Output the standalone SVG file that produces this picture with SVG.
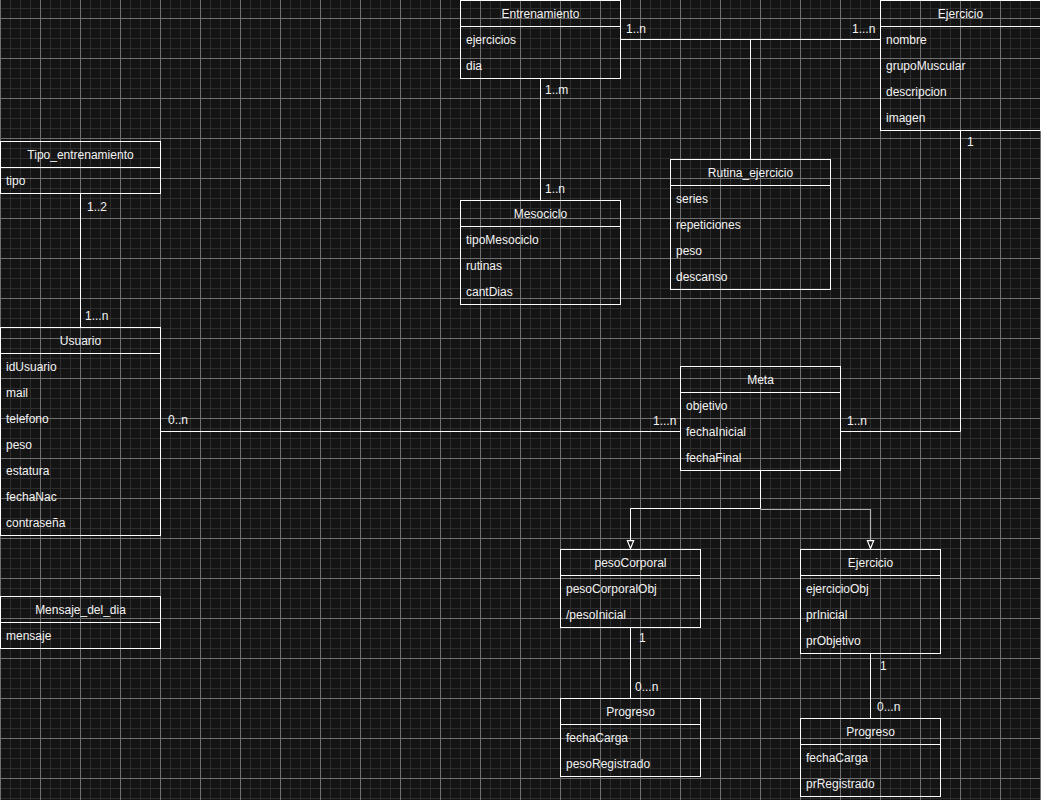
<svg xmlns="http://www.w3.org/2000/svg" width="1041" height="800" viewBox="0 0 1041 800">
<style>
.box{fill:none;stroke:#ffffff;stroke-width:1}
.sep{stroke:#ffffff;stroke-width:1}
.t{font-family:"Liberation Sans",Arial,sans-serif;font-size:12px;fill:#f2f2f2}
.h{text-anchor:middle}
.c{fill:none;stroke:#ffffff;stroke-width:1}
.c2{fill:none;stroke:#b0b0b0;stroke-width:1.2}
</style>
<defs>
<pattern id="grid" x="0" y="18" width="40" height="40" patternUnits="userSpaceOnUse">
<rect x="10" y="0" width="1" height="40" fill="#2e2e2e"/>
<rect x="20" y="0" width="1" height="40" fill="#2e2e2e"/>
<rect x="30" y="0" width="1" height="40" fill="#2e2e2e"/>
<rect x="0" y="10" width="40" height="1" fill="#2e2e2e"/>
<rect x="0" y="20" width="40" height="1" fill="#2e2e2e"/>
<rect x="0" y="30" width="40" height="1" fill="#2e2e2e"/>
<rect x="0" y="0" width="1" height="40" fill="#707070"/>
<rect x="0" y="0" width="40" height="1" fill="#707070"/>
</pattern>
<marker id="tri" markerUnits="userSpaceOnUse" markerWidth="12" markerHeight="10" viewBox="-1 -4 10 8" refX="6.5" refY="0" orient="auto">
<path d="M0,-2.6 L6.5,0 L0,2.6 Z" fill="#141414" stroke="#ffffff" stroke-width="1"/>
</marker>
</defs>
<rect width="1041" height="800" fill="#141414"/>
<rect width="1041" height="800" fill="url(#grid)"/>

<g id="connectors">
<path class="c" d="M620.5,39.5 L880.5,39.5"/>
<path class="c" d="M750.5,39.5 L750.5,159.5"/>
<path class="c" d="M540.5,78.5 L540.5,200.5"/>
<path class="c" d="M80.5,193.5 L80.5,327.5"/>
<path class="c" d="M160.5,431.5 L680.5,431.5"/>
<path class="c" d="M840.5,431.5 L960.5,431.5 L960.5,130.5"/>
<path class="c" d="M760.5,470.5 L760.5,508.5 L630.5,508.5 L630.5,548.5" marker-end="url(#tri)"/>
<path class="c2" d="M760.5,509.5 L870.5,509.5 L870.5,548.5" marker-end="url(#tri)"/>
<path class="c" d="M630.5,627.5 L630.5,698.5"/>
<path class="c" d="M870.5,653.5 L870.5,718.5"/>
<text class="t" x="626" y="33">1..n</text>
<text class="t" x="852" y="33">1...n</text>
<text class="t" x="545" y="94">1..m</text>
<text class="t" x="545" y="193">1..n</text>
<text class="t" x="87" y="211">1..2</text>
<text class="t" x="85" y="320">1...n</text>
<text class="t" x="168" y="424">0..n</text>
<text class="t" x="653" y="425">1...n</text>
<text class="t" x="847" y="425">1..n</text>
<text class="t" x="967" y="146">1</text>
<text class="t" x="639" y="642">1</text>
<text class="t" x="635" y="691">0...n</text>
<text class="t" x="880" y="670">1</text>
<text class="t" x="877" y="711">0...n</text>
</g>

<g id="Entrenamiento">
<rect class="box" x="460.5" y="0.5" width="160" height="78"/>
<line class="sep" x1="460.5" y1="26.5" x2="620.5" y2="26.5"/>
<text class="t h" x="540.5" y="18">Entrenamiento</text>
<text class="t" x="466" y="44">ejercicios</text>
<text class="t" x="466" y="70">dia</text>
</g>

<g id="Ejercicio">
<rect class="box" x="880.5" y="0.5" width="160" height="130"/>
<line class="sep" x1="880.5" y1="26.5" x2="1040.5" y2="26.5"/>
<text class="t h" x="960.5" y="18">Ejercicio</text>
<text class="t" x="886" y="44">nombre</text>
<text class="t" x="886" y="70">grupoMuscular</text>
<text class="t" x="886" y="96">descripcion</text>
<text class="t" x="886" y="122">imagen</text>
</g>

<g id="Tipo_entrenamiento">
<rect class="box" x="0.5" y="141.5" width="160" height="52"/>
<line class="sep" x1="0.5" y1="167.5" x2="160.5" y2="167.5"/>
<text class="t h" x="80.5" y="159">Tipo_entrenamiento</text>
<text class="t" x="6" y="185">tipo</text>
</g>

<g id="Rutina_ejercicio">
<rect class="box" x="670.5" y="159.5" width="160" height="130"/>
<line class="sep" x1="670.5" y1="185.5" x2="830.5" y2="185.5"/>
<text class="t h" x="750.5" y="177">Rutina_ejercicio</text>
<text class="t" x="676" y="203">series</text>
<text class="t" x="676" y="229">repeticiones</text>
<text class="t" x="676" y="255">peso</text>
<text class="t" x="676" y="281">descanso</text>
</g>

<g id="Mesociclo">
<rect class="box" x="460.5" y="200.5" width="160" height="104"/>
<line class="sep" x1="460.5" y1="226.5" x2="620.5" y2="226.5"/>
<text class="t h" x="540.5" y="218">Mesociclo</text>
<text class="t" x="466" y="244">tipoMesociclo</text>
<text class="t" x="466" y="270">rutinas</text>
<text class="t" x="466" y="296">cantDias</text>
</g>

<g id="Usuario">
<rect class="box" x="0.5" y="327.5" width="160" height="208"/>
<line class="sep" x1="0.5" y1="353.5" x2="160.5" y2="353.5"/>
<text class="t h" x="80.5" y="345">Usuario</text>
<text class="t" x="6" y="371">idUsuario</text>
<text class="t" x="6" y="397">mail</text>
<text class="t" x="6" y="423">telefono</text>
<text class="t" x="6" y="449">peso</text>
<text class="t" x="6" y="475">estatura</text>
<text class="t" x="6" y="501">fechaNac</text>
<text class="t" x="6" y="527">contraseña</text>
</g>

<g id="Meta">
<rect class="box" x="680.5" y="366.5" width="160" height="104"/>
<line class="sep" x1="680.5" y1="392.5" x2="840.5" y2="392.5"/>
<text class="t h" x="760.5" y="384">Meta</text>
<text class="t" x="686" y="410">objetivo</text>
<text class="t" x="686" y="436">fechaInicial</text>
<text class="t" x="686" y="462">fechaFinal</text>
</g>

<g id="Mensaje_del_dia">
<rect class="box" x="0.5" y="596.5" width="160" height="52"/>
<line class="sep" x1="0.5" y1="622.5" x2="160.5" y2="622.5"/>
<text class="t h" x="80.5" y="614">Mensaje_del_dia</text>
<text class="t" x="6" y="640">mensaje</text>
</g>

<g id="pesoCorporal">
<rect class="box" x="560.5" y="549.5" width="140" height="78"/>
<line class="sep" x1="560.5" y1="575.5" x2="700.5" y2="575.5"/>
<text class="t h" x="630.5" y="567">pesoCorporal</text>
<text class="t" x="566" y="593">pesoCorporalObj</text>
<text class="t" x="566" y="619">/pesoInicial</text>
</g>

<g id="Ejercicio_meta">
<rect class="box" x="800.5" y="549.5" width="140" height="104"/>
<line class="sep" x1="800.5" y1="575.5" x2="940.5" y2="575.5"/>
<text class="t h" x="870.5" y="567">Ejercicio</text>
<text class="t" x="806" y="593">ejercicioObj</text>
<text class="t" x="806" y="619">prInicial</text>
<text class="t" x="806" y="645">prObjetivo</text>
</g>

<g id="Progreso_peso">
<rect class="box" x="560.5" y="698.5" width="140" height="78"/>
<line class="sep" x1="560.5" y1="724.5" x2="700.5" y2="724.5"/>
<text class="t h" x="630.5" y="716">Progreso</text>
<text class="t" x="566" y="742">fechaCarga</text>
<text class="t" x="566" y="768">pesoRegistrado</text>
</g>

<g id="Progreso_ejercicio">
<rect class="box" x="800.5" y="718.5" width="140" height="78"/>
<line class="sep" x1="800.5" y1="744.5" x2="940.5" y2="744.5"/>
<text class="t h" x="870.5" y="736">Progreso</text>
<text class="t" x="806" y="762">fechaCarga</text>
<text class="t" x="806" y="788">prRegistrado</text>
</g>
</svg>
